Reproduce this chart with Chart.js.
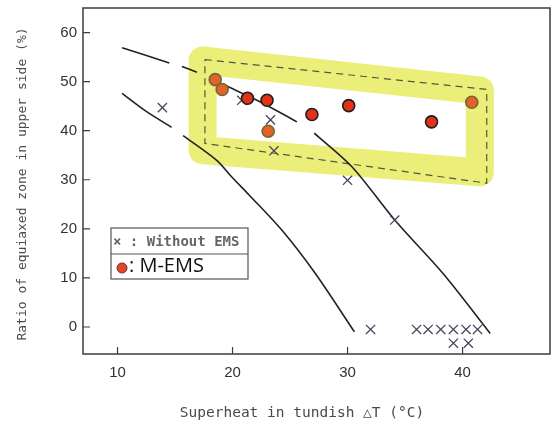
<!DOCTYPE html>
<html>
<head>
<meta charset="utf-8">
<script src="https://cdn.jsdelivr.net/npm/chart.js@4.4.1/dist/chart.umd.min.js"></script>
<style>
  html, body { margin: 0; padding: 0; background: #fff; }
  canvas { display: block; }
</style>
</head>
<body>
<canvas id="chart" width="552" height="426"></canvas>
<script>
// tick labels
const xTicks = [10, 20, 30, 40];
const yTicks = [0, 10, 20, 30, 40, 50, 60];

// x : Without EMS
const withoutEmsX = [13.9, 20.8, 23.3, 23.6, 30.0, 34.1, 32.0, 36.0, 37.0, 38.1, 39.2, 40.3, 41.3, 39.2, 40.5];
const withoutEmsY = [44.7, 46.2, 42.2, 35.9, 29.9, 21.8, -0.5, -0.5, -0.5, -0.5, -0.5, -0.5, -0.5, -3.3, -3.3];

// o : M-EMS
const mEmsX = [18.5, 19.1, 21.3, 23.0, 23.1, 26.9, 30.1, 37.3, 40.8];
const mEmsY = [50.4, 48.4, 46.6, 46.2, 39.9, 43.3, 45.1, 41.8, 45.8];
const mEmsFaded = [0, 1, 4, 8]; // points sitting under the highlighter

// trend curves (broken where they pass labels / marks)
const lowerCurveAX = [10.4, 12.4, 14.7];
const lowerCurveAY = [47.6, 44.1, 40.7];
const lowerCurveBX = [15.7, 18.6, 20.0, 21.4, 24.3, 27.2, 30.6];
const lowerCurveBY = [39.0, 34.0, 30.4, 27.0, 19.7, 10.9, -1.0];
const upperCurveAX = [10.4, 14.5];
const upperCurveAY = [56.9, 53.8];
const upperCurveBX = [15.6, 16.9];
const upperCurveBY = [53.1, 51.9];
const upperCurveCX = [19.4, 22.3, 25.6];
const upperCurveCY = [49.2, 46.0, 41.8];
const upperCurveDX = [27.1, 30.4, 34.1, 38.3, 42.4];
const upperCurveDY = [39.5, 32.6, 21.8, 10.9, -1.3];

// dashed frame and highlighter round the M-EMS group
const frameX = [17.6, 42.1, 42.1, 17.6, 17.6];
const frameY = [54.5, 48.4, 29.3, 37.4, 54.5];
const markerX = [17.4, 41.5, 41.5, 17.4, 17.4];
const markerY = [54.3, 48.2, 31.5, 36.0, 54.3];

const pts = (xs, ys) => xs.map((x, i) => ({ x: x, y: ys[i] }));

function curve(xs, ys) {
  return {
    data: pts(xs, ys),
    showLine: true,
    borderColor: '#222',
    borderWidth: 1.6,
    pointRadius: 0,
    tension: 0.3,
    fill: false
  };
}

const frame = {
  id: 'frame',
  afterDraw(chart) {
    const ctx = chart.ctx;
    const a = chart.chartArea;
    const xs = chart.scales.x, ys = chart.scales.y;
    ctx.save();
    ctx.strokeStyle = '#3c3c3c';
    ctx.lineWidth = 1.5;
    ctx.strokeRect(a.left, a.top, a.right - a.left, a.bottom - a.top);

    // inward tick marks + labels
    ctx.lineWidth = 1.2;
    ctx.beginPath();
    xTicks.forEach(v => {
      const px = xs.getPixelForValue(v);
      ctx.moveTo(px, a.bottom);
      ctx.lineTo(px, a.bottom - 7);
    });
    yTicks.forEach(v => {
      const py = ys.getPixelForValue(v);
      ctx.moveTo(a.left, py);
      ctx.lineTo(a.left + 7, py);
    });
    ctx.stroke();

    ctx.fillStyle = '#333';
    ctx.font = '15px "Liberation Sans"';
    ctx.textBaseline = 'middle';
    ctx.textAlign = 'center';
    xTicks.forEach(v => ctx.fillText(String(v), xs.getPixelForValue(v), a.bottom + 19));
    ctx.textAlign = 'right';
    yTicks.forEach(v => ctx.fillText(String(v), a.left - 6, ys.getPixelForValue(v)));

    // axis titles
    ctx.fillStyle = '#4a4a4a';
    ctx.font = '14.5px "DejaVu Sans Mono"';
    ctx.textAlign = 'center';
    ctx.fillText('Superheat in tundish △T (°C)', 302, 413);
    ctx.save();
    ctx.translate(23, 184);
    ctx.rotate(-Math.PI / 2);
    ctx.font = '13px "DejaVu Sans Mono"';
    ctx.fillText('Ratio of equiaxed zone in upper side (%)', 0, 0);
    ctx.restore();

    // legend box
    const bx = 111, by = 228, bw = 137, bh = 51;
    ctx.fillStyle = '#fff';
    ctx.fillRect(bx, by, bw, bh);
    ctx.strokeStyle = '#555';
    ctx.lineWidth = 1.2;
    ctx.strokeRect(bx, by, bw, bh);
    ctx.beginPath();
    ctx.moveTo(bx, by + 26);
    ctx.lineTo(bx + bw, by + 26);
    ctx.stroke();

    ctx.textAlign = 'left';
    ctx.fillStyle = '#666';
    ctx.font = 'bold 14px "DejaVu Sans Mono"';
    ctx.fillText('× : Without EMS', bx + 2, by + 14);

    ctx.beginPath();
    ctx.arc(bx + 11, by + 40, 5, 0, Math.PI * 2);
    ctx.fillStyle = '#e2452c';
    ctx.fill();
    ctx.strokeStyle = '#7a3020';
    ctx.lineWidth = 1;
    ctx.stroke();
    ctx.fillStyle = '#111';
    ctx.font = '20px "Open Sans"';
    ctx.fillText(': M-EMS', bx + 18, by + 38);
    ctx.restore();
  }
};

new Chart(document.getElementById('chart'), {
  type: 'scatter',
  data: {
    datasets: [
      {
        label: 'M-EMS',
        data: pts(mEmsX, mEmsY),
        pointRadius: 6,
        pointHoverRadius: 6,
        backgroundColor: c => mEmsFaded.includes(c.dataIndex) ? '#e4622a' : '#e2321a',
        borderColor: c => mEmsFaded.includes(c.dataIndex) ? '#6e6a30' : '#1e1e1e',
        borderWidth: 1.6
      },
      {
        label: 'Without EMS',
        data: pts(withoutEmsX, withoutEmsY),
        pointStyle: 'crossRot',
        pointRadius: 6.5,
        pointHoverRadius: 6.5,
        borderColor: '#44465a',
        borderWidth: 1.3
      },
      curve(lowerCurveAX, lowerCurveAY),
      curve(lowerCurveBX, lowerCurveBY),
      curve(upperCurveAX, upperCurveAY),
      curve(upperCurveBX, upperCurveBY),
      curve(upperCurveCX, upperCurveCY),
      curve(upperCurveDX, upperCurveDY),
      {
        data: pts(frameX, frameY),
        showLine: true,
        borderColor: '#4f5a3c',
        borderWidth: 1.2,
        borderDash: [7, 5],
        pointRadius: 0,
        tension: 0
      },
      {
        data: pts(markerX, markerY),
        showLine: true,
        borderColor: 'rgba(228, 231, 70, 0.72)',
        borderWidth: 28,
        borderJoinStyle: 'round',
        borderCapStyle: 'round',
        pointRadius: 0,
        tension: 0
      }
    ]
  },
  options: {
    responsive: false,
    animation: false,
    layout: { autoPadding: false, padding: { top: 8, right: 2, left: 0, bottom: 0 } },
    plugins: {
      legend: { display: false },
      tooltip: { enabled: false }
    },
    scales: {
      x: {
        type: 'linear',
        min: 7,
        max: 47.6,
        afterBuildTicks: s => { s.ticks = xTicks.map(v => ({ value: v })); },
        afterFit: s => { s.height = 72; s.paddingLeft = 0; s.paddingRight = 0; },
        grid: { display: false, drawTicks: false },
        border: { display: false },
        ticks: { display: false }
      },
      y: {
        type: 'linear',
        min: -5.5,
        max: 65,
        afterBuildTicks: s => { s.ticks = yTicks.map(v => ({ value: v })); },
        afterFit: s => { s.width = 83; s.paddingTop = 0; s.paddingBottom = 0; },
        grid: { display: false, drawTicks: false },
        border: { display: false },
        ticks: { display: false }
      }
    }
  },
  plugins: [frame]
});
</script>
</body>
</html>
